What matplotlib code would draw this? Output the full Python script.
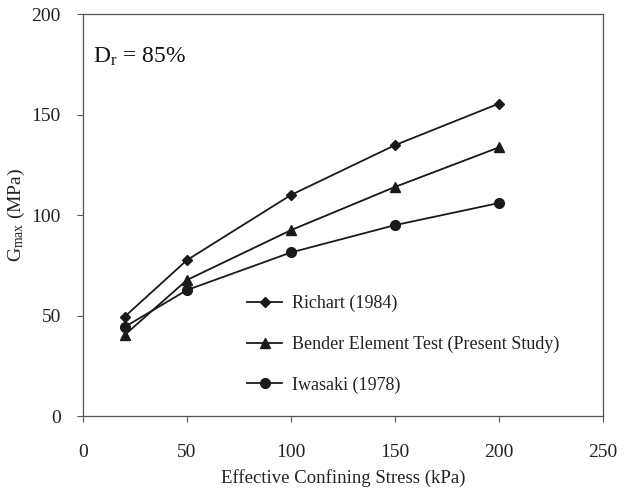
import matplotlib
matplotlib.use('Agg')
from matplotlib import pyplot as plt

# Gmax vs effective confining stress, Dr = 85%
stress = [20, 50, 100, 150, 200]
richart = [49.4, 77.6, 110.0, 134.8, 155.5]
bender = [40.3, 67.7, 92.5, 114.0, 133.7]
iwasaki = [44.3, 62.7, 81.4, 95.0, 106.0]

labels = ['Richart (1984)', 'Bender Element Test (Present Study)', 'Iwasaki (1978)']

plt.rcParams['font.family'] = ['Liberation Serif', 'DejaVu Serif']
plt.rcParams['mathtext.fontset'] = 'custom'
plt.rcParams['mathtext.rm'] = 'Liberation Serif'
plt.rcParams['mathtext.it'] = 'Liberation Serif'

fig = plt.figure(figsize=(6.24, 4.9), dpi=100)
ax = fig.add_axes([0.133, 0.151, 0.833, 0.82])

ink = '#1a1a1a'
ax.plot(stress, richart, color=ink, lw=1.3, marker='D', ms=5.5, label=labels[0])
ax.plot(stress, bender, color=ink, lw=1.3, marker='^', ms=7, label=labels[1])
ax.plot(stress, bender, color='#888888', lw=0.8, ls='--', zorder=1)
ax.plot(stress, iwasaki, color=ink, lw=1.3, marker='o', ms=7, label=labels[2])

ax.set_xlim(0, 250)
ax.set_ylim(0, 200)
ax.set_xticks([0, 50, 100, 150, 200, 250])
ax.set_yticks([0, 50, 100, 150, 200])
ax.tick_params(direction='out', length=4, width=0.8, color='#555555',
               labelsize=14, labelcolor='#222222')
ax.tick_params(axis='x', pad=16)
ax.tick_params(axis='y', pad=12)
for s in ax.spines.values():
    s.set_color('#555555')
    s.set_linewidth(0.9)

ax.set_xlabel('Effective Confining Stress (kPa)', fontsize=13.5, color='#222222', labelpad=6)
ax.set_ylabel(r'G$_{\mathrm{max}}$ (MPa)', fontsize=14, color='#222222', labelpad=3)
ax.text(0.02, 0.88, r'D$_{\mathrm{r}}$ = 85%', transform=ax.transAxes,
        fontsize=17, color='#111111')

leg = ax.legend(loc='lower left', bbox_to_anchor=(0.285, 0.015), frameon=False,
                fontsize=13, handlelength=1.9, labelspacing=1.3, handletextpad=0.55)
for t in leg.get_texts():
    t.set_color('#222222')

fig.savefig('out.png', dpi=100)
